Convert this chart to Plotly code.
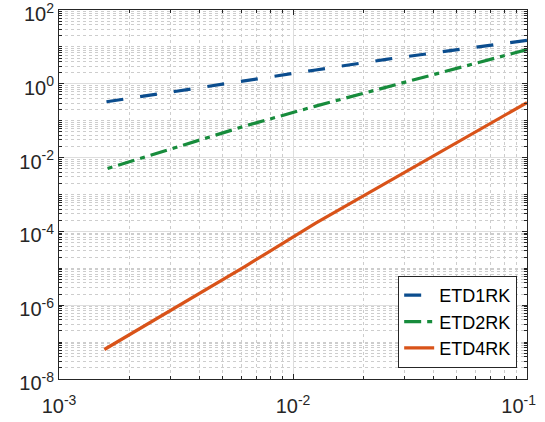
import plotly.graph_objects as go

dt = [0.1, 0.05, 0.025, 0.0125, 0.00625, 0.003125, 0.0015625]
err_etd1rk = [15.1, 8.4, 4.6, 2.37, 1.19, 0.62, 0.32]
err_etd2rk = [8.45, 2.6, 0.80, 0.249, 0.072, 0.0185, 0.00476]
err_etd4rk = [0.31, 0.025, 2.04e-3, 1.67e-4, 1.13e-5, 8.4e-7, 6.3e-8]

series_names = ["ETD1RK", "ETD2RK", "ETD4RK"]
x_major = [1e-3, 1e-2, 1e-1]
x_major_text = ["10<sup>-3</sup>", "10<sup>-2</sup>",
                "10<sup>-1</sup>\u00a0\u00a0\u00a0"]
y_major = [1e-8, 1e-6, 1e-4, 1e-2, 1e0, 1e2]
y_major_text = ["10<sup>-8</sup>", "10<sup>-6</sup>", "10<sup>-4</sup>",
                "10<sup>-2</sup>", "10<sup>0</sup>", "10<sup>2</sup>"]

x_minor = [k * 10.0 ** n for n in (-3, -2) for k in range(2, 10)]
y_minor = [k * 10.0 ** n for n in range(-8, 2) for k in range(1, 10)
           if not (k == 1 and n % 2 == 0)]

colors = ["#0b4d8e", "#178c3c", "#d95319"]
dashes = ["17px,17px", "17px,6px,5px,6px", "solid"]

fig = go.Figure()
for name, ys, c, d in zip(series_names, [err_etd1rk, err_etd2rk, err_etd4rk], colors, dashes):
    fig.add_trace(go.Scatter(x=dt, y=ys, mode="lines", name=name,
                             line=dict(color=c, width=3.2, dash=d)))

axis_font = dict(family="Liberation Sans, Arial, sans-serif", size=20, color="#262626")
common = dict(
    type="log", showline=True, linecolor="#262626", linewidth=1, mirror="allticks",
    ticks="inside", ticklen=5, tickcolor="#262626", tickwidth=1,
    showgrid=True, gridcolor="#dedede", gridwidth=1, zeroline=False,
    tickfont=axis_font, tickmode="array", automargin=False,
    ticklabeloverflow="allow",
)
minor_common = dict(tickmode="array", ticks="inside", ticklen=3,
                    tickcolor="#262626", showgrid=True, gridcolor="#cdcdcd",
                    griddash="dot", gridwidth=1)
fig.update_xaxes(range=[-3, -1], tickvals=x_major, ticktext=x_major_text,
                 ticklabelstandoff=9,
                 minor=dict(tickvals=x_minor, **minor_common), **common)
fig.update_yaxes(range=[-8, 2], tickvals=y_major, ticktext=y_major_text,
                 ticklabelshift=4,
                 minor=dict(tickvals=y_minor, **minor_common), **common)

fig.update_layout(
    width=545, height=422,
    margin=dict(l=59, r=18, t=10, b=43),
    paper_bgcolor="white", plot_bgcolor="white",
    showlegend=True,
    legend=dict(x=0.979, y=0.03, xanchor="right", yanchor="bottom",
                bgcolor="white", bordercolor="#262626", borderwidth=1,
                font=dict(family="Liberation Sans, Arial, sans-serif", size=18, color="#000000"),
                tracegroupgap=0, itemwidth=30),
)

fig.write_html("out.html", config={"displayModeBar": False},
               post_script="document.body.style.margin='0';")
